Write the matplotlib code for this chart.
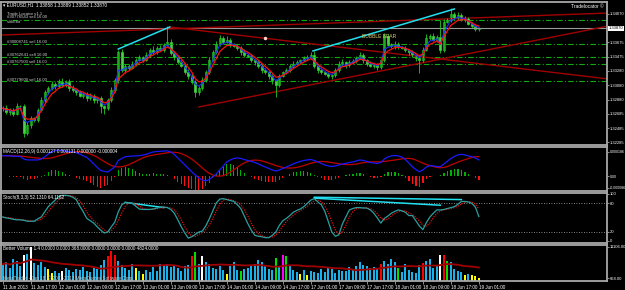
import matplotlib
matplotlib.use("Agg")
import matplotlib.pyplot as plt
import matplotlib.transforms as mtransforms
import numpy as np
import pandas as pd

# EURUSD H1 closes, one per bar (11 Jun 09:00 .. 19 Jun 01:00)
closes = [
    1.3276, 1.3271, 1.3274, 1.3268, 1.3279, 1.3279, 1.3242, 1.3253, 1.3262, 1.3260,
    1.3274, 1.3287, 1.3299, 1.3304, 1.3310, 1.3307, 1.3313, 1.3308, 1.3313, 1.3304,
    1.3301, 1.3299, 1.3293, 1.3296, 1.3290, 1.3293, 1.3287, 1.3290, 1.3279, 1.3276,
    1.3287, 1.3301, 1.3315, 1.3354, 1.3329, 1.3335, 1.3332, 1.3338, 1.3343, 1.3347,
    1.3343, 1.3350, 1.3357, 1.3354, 1.3360, 1.3357, 1.3364, 1.3368, 1.3353, 1.3347,
    1.3340, 1.3335, 1.3326, 1.3321, 1.3313, 1.3299, 1.3304, 1.3315, 1.3326, 1.3343,
    1.3354, 1.3365, 1.3374, 1.3368, 1.3371, 1.3364, 1.3363, 1.3360, 1.3354, 1.3350,
    1.3349, 1.3343, 1.3340, 1.3335, 1.3329, 1.3326, 1.3321, 1.3315, 1.3308, 1.3321,
    1.3326, 1.3329, 1.3335, 1.3338, 1.3340, 1.3343, 1.3346, 1.3347, 1.3350, 1.3335,
    1.3329, 1.3326, 1.3324, 1.3321, 1.3322, 1.3329, 1.3338, 1.3340, 1.3336, 1.3340,
    1.3342, 1.3346, 1.3350, 1.3343, 1.3338, 1.3335, 1.3336, 1.3333, 1.3343, 1.3376,
    1.3364, 1.3363, 1.3365, 1.3361, 1.3360, 1.3357, 1.3354, 1.3350, 1.3346, 1.3343,
    1.3357, 1.3374, 1.3376, 1.3371, 1.3375, 1.3357, 1.3396, 1.3399, 1.3407, 1.3401,
    1.3406, 1.3399, 1.3401, 1.3393, 1.3390, 1.3386, 1.3387]

# wick length above / below the body, in pips
wick_up = [
    3, 4, 2, 3, 5, 2, 3, 4, 3, 2,
    3, 4, 2, 3, 4, 2, 3, 5, 2, 3,
    4, 2, 3, 3, 2, 4, 3, 2, 3, 2,
    3, 4, 3, 3, 5, 3, 2, 4, 3, 3,
    2, 4, 3, 5, 2, 4, 3, 22, 4, 3,
    2, 3, 2, 4, 3, 2, 3, 4, 3, 4,
    3, 4, 4, 3, 5, 2, 3, 2, 3, 4,
    2, 3, 2, 3, 2, 3, 2, 3, 2, 3,
    2, 3, 2, 4, 3, 2, 3, 3, 4, 5,
    2, 3, 2, 3, 2, 3, 3, 4, 2, 3,
    3, 2, 4, 3, 2, 3, 2, 3, 2, 4,
    3, 2, 4, 3, 2, 3, 2, 3, 2, 3,
    4, 5, 3, 4, 3, 24, 4, 3, 8, 3,
    4, 3, 3, 2, 3, 2, 2]
wick_dn = [
    4, 3, 5, 3, 2, 4, 6, 3, 4, 3,
    3, 2, 4, 3, 2, 4, 3, 2, 3, 4,
    3, 4, 2, 3, 4, 3, 4, 3, 10, 8,
    3, 2, 3, 4, 3, 4, 3, 2, 3, 2,
    3, 2, 3, 2, 3, 2, 3, 2, 3, 4,
    3, 2, 3, 4, 3, 7, 4, 3, 2, 3,
    2, 3, 2, 3, 2, 3, 2, 3, 4, 3,
    2, 3, 4, 3, 4, 3, 4, 5, 17, 3,
    2, 3, 2, 3, 2, 3, 2, 3, 2, 3,
    4, 3, 2, 3, 4, 3, 2, 3, 4, 3,
    2, 3, 2, 4, 3, 2, 3, 4, 3, 3,
    2, 3, 4, 3, 2, 3, 4, 3, 5, 18,
    3, 2, 3, 2, 3, 4, 3, 2, 3, 2,
    3, 2, 3, 2, 3, 2, 2]

# MACD main line, in 1e-6
macd_main = [
    156, 156, 154, 152, 151, 150, 131, 124, 124, 124,
    124, 131, 148, 168, 186, 193, 198, 195, 189, 186,
    186, 177, 168, 154, 143, 120, 94, 68, 45, 38,
    33, 52, 73, 120, 135, 148, 151, 153, 154, 156,
    160, 166, 176, 184, 187, 189, 191, 192, 184, 165,
    139, 113, 86, 60, 35, 11, -11, -27, -33, -22,
    -3, 19, 49, 79, 109, 124, 135, 139, 135, 127,
    120, 113, 105, 94, 82, 71, 60, 49, 41, 49,
    60, 71, 82, 94, 105, 113, 120, 124, 127, 120,
    109, 98, 86, 79, 75, 79, 86, 94, 98, 105,
    109, 116, 124, 120, 113, 105, 101, 98, 105, 131,
    146, 154, 157, 154, 146, 127, 101, 73, 52, 35,
    49, 71, 81, 79, 75, 73, 94, 116, 135, 150,
    162, 166, 162, 154, 148, 139, 124]

stoch_k = [
    51, 49, 48, 46, 45, 45, 44, 42, 42, 42,
    47, 51, 62, 73, 80, 87, 95, 97, 97, 96,
    93, 88, 74, 62, 48, 43, 38, 30, 23, 17,
    19, 30, 40, 62, 77, 82, 81, 80, 74, 68,
    67, 67, 67, 68, 70, 72, 72, 71, 67, 59,
    45, 30, 17, 6, 9, 14, 19, 21, 32, 47,
    64, 81, 89, 90, 88, 86, 84, 77, 69, 53,
    37, 23, 12, 10, 9, 7, 7, 12, 19, 33,
    43, 48, 54, 61, 65, 68, 73, 80, 87, 90,
    83, 77, 63, 41, 19, 10, 13, 36, 51, 66,
    69, 71, 71, 70, 70, 66, 59, 49, 38, 48,
    53, 59, 63, 66, 64, 61, 54, 54, 43, 32,
    24, 39, 51, 59, 66, 66, 67, 69, 71, 73,
    78, 84, 84, 83, 80, 72, 52]

volumes = [
    5400, 6000, 4200, 7200, 6600, 4800, 8500, 8800, 11100, 5900,
    5000, 6200, 4400, 3900, 2600, 3300, 2500, 3000, 4100, 3600,
    2800, 3900, 3400, 4600, 3100, 2700, 4200, 3800, 5200, 6900,
    8200, 9900, 8400, 6500, 5200, 4100, 3600, 5600, 4300, 3200,
    2200, 3600, 2800, 4500, 3300, 5400, 4800, 5300, 4400, 5200,
    4100, 3300, 4800, 5200, 8200, 9300, 5600, 8200, 6000, 5600,
    4200, 3800, 4900, 3400, 2200, 4700, 6100, 3400, 3100, 3800,
    4200, 5000, 5300, 6800, 6000, 5100, 3900, 3500, 7600, 4800,
    8300, 8000, 4900, 3600, 2700, 2300, 3500, 1700, 3200, 2900,
    2600, 3800, 2700, 4600, 3800, 2600, 3600, 3200, 3300, 4500,
    3900, 4900, 6200, 5000, 4900, 4300, 4400, 4300, 5600, 6600,
    5400, 7000, 6000, 4000, 2900, 5300, 3600, 2800, 2400, 5100,
    5900, 6500, 7200, 4300, 4800, 8300, 8300, 6500, 6100, 3700,
    3100, 2700, 1900, 2100, 1900, 1600, 800]
vol_kind = ("bbbbbbwbwb" "bbbyybbwbb" "bbbbbbbbbb" "rrrbbbbbyb" "ybbbbbbbbb"
            "bbbbrgbwbb" "bbbbybbbgb" "bbbbbbbbgb" "mgbbbybybb" "bbbbbbbbbb"
            "bbbbbbbbrb" "bbbgbbbbbb" "rbbbbwrgbb" "bbybyyy")

time_labels = ["11 Jun 2013", "11 Jun 17:00", "12 Jun 01:00", "12 Jun 09:00", "12 Jun 17:00",
               "13 Jun 01:00", "13 Jun 09:00", "13 Jun 17:00", "14 Jun 01:00", "14 Jun 09:00",
               "14 Jun 17:00", "17 Jun 01:00", "17 Jun 09:00", "17 Jun 17:00", "18 Jun 01:00",
               "18 Jun 09:00", "18 Jun 17:00", "19 Jun 01:00"]
price_ticks = [1.34070, 1.33675, 1.33475, 1.33280, 1.33080, 1.32880, 1.32685, 1.32485, 1.32285]
last_price = 1.33870

# chart objects: (bar, price) end points
red_trends = [((0, 1.33778), (173, 1.34083)),
              ((47.7, 1.33889), (173, 1.33167)),
              ((56, 1.32778), (173, 1.33903))]
cyan_price = [((33, 1.33583), (47.7, 1.33889)), ((88.6, 1.33556), (129, 1.34139))]
cyan_stoch = [((35, 82), (46, 71)), ((89, 93), (131, 88)), ((89, 91), (125, 76))]
order_levels = [1.33986, 1.33653, 1.33479, 1.33375, 1.33133]
order_names = ["#30776543 sell 16.00", "#30008741 sell 16.00", "#30762641 sell 16.00",
               "#30767500 sell 16.00", "#30779600 sell 16.00"]

plt.rcParams['font.family'] = ['Liberation Sans', 'DejaVu Sans']

W, H = 625, 290
GRID = '#a8a8a8'
CANDLE = '#22cc22'
FS = 3.3
FS_R = 3.0

fig = plt.figure(figsize=(W / 100, H / 100), dpi=100, facecolor='black')


def box(top, bot):
    return [1 / W, 1 - bot / H, 606 / W, (bot - top) / H]


def ptxt(x, y, s, **kw):
    kw.setdefault('color', 'white')
    kw.setdefault('fontsize', FS)
    fig.text(x / W, 1 - y / H, s, va='center', ha=kw.pop('ha', 'left'), **kw)


ax_p = fig.add_axes(box(2, 145))
ax_m = fig.add_axes(box(147, 191))
ax_s = fig.add_axes(box(193, 243))
ax_v = fig.add_axes(box(245, 281))

for ax in (ax_p, ax_m, ax_s, ax_v):
    ax.set_facecolor('black')
    for sp in ax.spines.values():
        sp.set_color(GRID)
        sp.set_linewidth(1.3)
    ax.set_xlim(-0.5, 172.6)
    ax.tick_params(axis='y', left=False, labelleft=False, right=True, labelright=True,
                   length=1.5, width=0.6, color=GRID, labelcolor='white', labelsize=FS_R,
                   pad=0.5)
    ax.tick_params(axis='x', bottom=False, labelbottom=False)

n = len(closes)
x = np.arange(n)
c = np.array(closes)
o = np.r_[c[0], c[:-1]]
top = np.maximum(o, c)
bot = np.minimum(o, c)
hi = top + np.array(wick_up) * 1e-4
lo = bot - np.array(wick_dn) * 1e-4
body = np.maximum(top - bot, 0.00004)

# ---- price panel ----
ax_p.set_ylim(1.32250, 1.34236)
for lvl in order_levels:
    ax_p.axhline(lvl, color='#11aa11', lw=0.8, ls=(0, (5, 2, 1, 2)))
ax_p.axhline(last_price, color='#9a9a9a', lw=0.8)
for (x0, y0), (x1, y1) in red_trends:
    ax_p.plot([x0, x1], [y0, y1], color='#a00000', lw=1.0)

ax_p.vlines(x, lo, hi, color=CANDLE, lw=0.6)
bull = c >= o
ax_p.bar(x[bull], body[bull], bottom=bot[bull], width=0.62, color='black',
         edgecolor=CANDLE, linewidth=0.5)
ax_p.bar(x[~bull], body[~bull], bottom=bot[~bull], width=0.62, color='white',
         edgecolor=CANDLE, linewidth=0.5)

cs = pd.Series(c)
ax_p.plot(x, cs.ewm(span=3, adjust=False).mean(), color='#2030ff', lw=0.8)
ax_p.plot(x, cs.ewm(span=5, adjust=False).mean(), color='#ff1010', lw=0.9)

for (x0, y0), (x1, y1) in cyan_price:
    ax_p.plot([x0, x1], [y0, y1], color='#22e0f0', lw=1.1)
ax_p.plot(75, 1.33740, 'o', ms=1.5, color='#ffd0d0')
ax_p.text(102.5, 1.3375, "BUBBLE BEAR", color='#d8cf70', fontsize=3.6, va='center')

ax_p.set_yticks(price_ticks)
ax_p.set_yticklabels([f"{p:.5f}" for p in price_ticks])
tr = mtransforms.blended_transform_factory(ax_p.transAxes, ax_p.transData)
ax_p.text(1.003, last_price, f"{last_price:.5f}", transform=tr, fontsize=FS_R, color='black',
          va='center', ha='left',
          bbox=dict(boxstyle='square,pad=0.1', fc='white', ec='white', lw=0))

for lvl, name in zip(order_levels[1:], order_names[1:]):
    ax_p.text(1.2, lvl + 0.00022, name, fontsize=3.1, color='#d0d0d0', va='center')
ax_p.text(1.2, 1.34065, "Trade Locator v1.1", fontsize=3.1, color='#d0d0d0', va='center')
ax_p.text(1.2, order_levels[0] + 0.00035, order_names[0], fontsize=3.1, color='#d0d0d0',
          va='center')
ax_p.text(1.2, 1.33960, "sold lot", fontsize=3.1, color='#d0d0d0', va='center')

ptxt(3, 5, "\u25be EURUSD,H1  1.33858 1.33889 1.33852 1.33870")
ptxt(604, 6, "Tradelocator \u00a9", ha='right', fontsize=3.5)

# ---- MACD panel ----
m = pd.Series(macd_main, dtype=float)
sig = m.rolling(9, min_periods=1).mean()
hist = m - sig
ax_m.set_ylim(-109, 221)
ax_m.bar(x, hist.clip(lower=0), width=0.38, color='#00b000')
ax_m.bar(x, hist.clip(upper=0), width=0.38, color='#ff1010')
ax_m.plot(x, sig, color='#c00000', lw=0.9)
ax_m.plot(x, m, color='#1a1aff', lw=0.9)
ax_m.set_yticks([186, 0, -86])
ax_m.set_yticklabels(["0.000186", "0.00", "-0.000086"])
ax_m.tick_params(axis='y', labelsize=2.6)
ptxt(3, 151, "MACD(12,26,9) 0.000127 0.000131 0.000000 -0.000004")

# ---- Stochastic panel ----
k = pd.Series(stoch_k, dtype=float)
d = k.rolling(3, min_periods=1).mean()
ax_s.set_ylim(-4.3, 102)
for lvl in (80, 20):
    ax_s.axhline(lvl, color='#b0b0b0', lw=0.6, ls=(0, (1, 2)))
for (x0, y0), (x1, y1) in cyan_stoch:
    ax_s.plot([x0, x1], [y0, y1], color='#22e0f0', lw=1.1)
ax_s.plot(x, d, color='#e01010', lw=0.9, ls=(0, (1, 1)))
ax_s.plot(x, k, color='#2aa0a0', lw=0.9)
ax_s.set_yticks([100, 80, 20, 0])
ax_s.set_yticklabels(["100", "80", "20", "0"])
ptxt(3, 197, "Stoch(8,3,3) 52.1310 64.1162")

# ---- Better Volume panel ----
cmap = {'b': '#1ab0e8', 'w': '#ffffff', 'r': '#ff0000', 'y': '#ffff00',
        'g': '#00e000', 'm': '#ff00ff'}
v = np.array(volumes)
ax_v.set_ylim(-160, 11750)
ax_v.bar(x, v, width=0.55, color=[cmap[ch] for ch in vol_kind])
ax_v.plot(x, pd.Series(v).rolling(20, min_periods=1).mean(), color='#a00000', lw=1.3)
ax_v.set_yticks([11106, 668])
ax_v.set_yticklabels(["11106.00", "668.00"])
ptxt(3, 248, "Better Volume 1.4 0.0000 0.0000 368.0000 0.0000 0.0000 0.0000 4824.0000")
ptxt(3, 278, "MetaTrader - Jan 18, \u00a9 2001-2013 MetaQuotes Software Corp.", color='#c8c8c8')

ax_v.set_xticks(np.arange(0, n, 8))
ax_v.set_xticklabels(time_labels, ha='left')
ax_v.tick_params(axis='x', bottom=True, labelbottom=True, length=2, width=0.6, color=GRID,
                 labelcolor='white', labelsize=FS, pad=1.2)

fig.savefig("out.png", dpi=100, facecolor='black')
